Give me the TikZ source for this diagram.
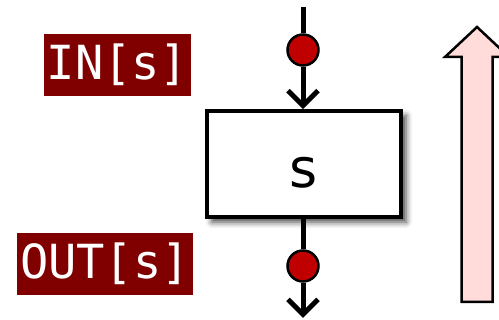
\documentclass[tikz,border=0pt]{standalone}
\usepackage{fontspec}
\setsansfont{DejaVu Sans}
\setmonofont{DejaVu Sans Mono}
\usetikzlibrary{arrows.meta,shadows.blur}
\definecolor{tagred}{RGB}{128,0,0}
\definecolor{dotred}{RGB}{192,0,0}
\definecolor{arrowpink}{RGB}{255,220,218}
\tikzset{
	flow/.style={line width=5pt},
	tip/.style={-{Straight Barb[length=15pt,width=30pt]}},
	dot/.style={circle, draw, line width=2.5pt, fill=dotred, minimum size=31pt, inner sep=0pt},
	block/.style={draw, line width=3.5pt, fill=white, minimum width=194pt, minimum height=106pt,
		blur shadow={shadow xshift=5pt, shadow yshift=-5pt, shadow blur radius=6pt, shadow opacity=75}},
	blocktext/.style={anchor=base, inner sep=0pt, font=\sffamily\fontsize{54}{58}\selectfont},
	tag/.style={fill=tagred, text=white, inner sep=0pt, minimum height=62pt,
		font=\ttfamily\fontsize{47}{50}\selectfont}
}
\begin{document}
\begin{tikzpicture}[x=1pt, y=-1pt]
		\clip (0,0) rectangle (499,320);
		% Block
		\node[block] (s) at (304,164) {};
		\node[blocktext] (sname) at (304,188) {s};
		% Input side
		\coordinate (top) at (303,7);
		\node[dot] (din) at (303,50) {};
		\draw[flow] (top) -- (din);
		\draw[flow, tip] (din) -- (s.north -| din);
		% Output side
		\node[dot] (dout) at (303,266) {};
		\coordinate (bot) at (303,318);
		\draw[flow] (s.south -| dout) -- (dout);
		\draw[flow, tip] (dout) -- (bot);
		% Labels
		\node[tag, minimum width=147pt] (in) at (117.5,65) {IN[s]};
		\node[tag, minimum width=176pt] (out) at (105,264) {OUT[s]};
		% Big arrow
		\draw[line width=2.5pt, fill=arrowpink] (461.5,302) -- (461.5,57) -- (445,57) -- (477,27)
			-- (509,57) -- (492.5,57) -- (492.5,302) -- cycle;
	\end{tikzpicture}
\end{document}
